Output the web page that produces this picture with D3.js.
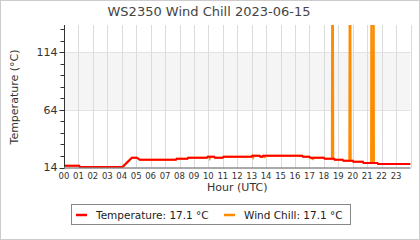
<!DOCTYPE html>
<html><head><meta charset="utf-8">
<script src="https://cdn.jsdelivr.net/npm/d3@7"></script>
<style>body{margin:0;background:#fff}svg{display:block;font-family:"DejaVu Sans",sans-serif}</style>
</head><body><svg id="c" width="420" height="240"></svg>
<script>
const title = "WS2350 Wind Chill 2023-06-15";
const hourTicks = d3.range(0, 24);
const yMajorTicks = [14, 64, 114];
const yMinorTicks = [24, 34, 44, 54, 74, 84, 94, 104, 124, 134];
const yDomain = [14, 137.6];
// Temperature (hour, °C)
const tempHours = [0, 1.05, 1.1, 4.05, 4.7, 5.05, 5.25, 7.75, 7.8, 8.55, 8.6, 9.9, 9.95, 10.4, 10.45, 11.0, 11.05, 13.0, 13.05, 13.55, 13.6, 13.75, 13.8, 16.5, 16.55, 17.0, 17.05, 18.0, 18.05, 18.7, 18.75, 19.3, 19.35, 20.0, 20.05, 20.7, 20.75, 21.7, 21.75, 24];
const tempValues = [15.6, 15.6, 14.4, 14.4, 22.5, 22.5, 20.7, 20.7, 21.6, 21.6, 22.5, 22.5, 23.4, 23.4, 22.5, 22.5, 23.4, 23.4, 24.2, 24.2, 23.4, 23.4, 24.2, 24.2, 23.4, 23.4, 22.5, 22.5, 21.6, 21.6, 20.7, 20.7, 19.8, 19.8, 18.9, 18.9, 18.0, 18.0, 17.1, 17.1];
// Wind chill (hour, °C)
const chillHours = [0, 1.05, 1.1, 4.05, 4.7, 5.05, 5.25, 7.75, 7.8, 8.55, 8.6, 9.9, 9.95, 10.05, 10.1, 10.15, 10.4, 10.45, 11.0, 11.05, 13.0, 13.05, 13.1, 13.15, 13.55, 13.6, 13.75, 13.8, 13.9, 13.95, 16.5, 16.55, 17.0, 17.05, 17.25, 17.3, 18.0, 18.05, 18.55, 18.58, 18.62, 18.65, 18.7, 18.75, 19.3, 19.35, 19.76, 19.79, 19.83, 19.86, 20.0, 20.05, 20.7, 20.75, 21.27, 21.29, 21.31, 21.43, 21.45, 21.47, 21.7, 21.75, 24];
const chillValues = [15.6, 15.6, 14.4, 14.4, 22.5, 22.5, 20.7, 20.7, 21.6, 21.6, 22.5, 22.5, 23.4, 23.4, 21.8, 23.4, 23.4, 22.5, 22.5, 23.4, 23.4, 24.2, 22.6, 24.2, 24.2, 23.4, 23.4, 24.2, 23.0, 24.2, 24.2, 23.4, 23.4, 22.5, 21.3, 22.5, 22.5, 21.6, 21.6, 200, 200, 21.6, 21.6, 20.7, 20.7, 19.8, 19.8, 200, 200, 19.8, 19.8, 18.9, 18.9, 18.0, 18.0, 200, 18.0, 18.0, 200, 18.0, 18.0, 17.1, 17.1];
const legendLabels = ["Temperature: 17.1 °C", "Wind Chill: 17.1 °C"];
const colors = ["#ff0000", "#ff8c00"];

const svg = d3.select("#c");
const L = 64, R = 410.5, T = 25, B = 167.5;
const x = d3.scaleLinear().domain([0, 24]).range([L, R]);
const y = d3.scaleLinear().domain(yDomain).range([B, T]);

svg.append("rect").attr("x",0.5).attr("y",0.5).attr("width",419).attr("height",239).attr("fill","#fff").attr("stroke","#ccc");

// band
svg.append("rect").attr("x", L).attr("width", R - L).attr("y", y(114)).attr("height", y(64) - y(114)).attr("fill", "#f5f5f5");
// horizontal grid
svg.append("g").selectAll("line").data([64,114]).join("line")
  .attr("x1", L).attr("x2", R).attr("y1", d=>Math.round(y(d))+0.5).attr("y2", d=>Math.round(y(d))+0.5).attr("stroke","#e2e2e2");
// vertical grid
svg.append("g").selectAll("line").data(hourTicks.slice(1).concat([24])).join("line")
  .attr("x1", d=>Math.round(x(d))+0.5).attr("x2", d=>Math.round(x(d))+0.5).attr("y1", T).attr("y2", B).attr("stroke","#dcdcdc");

const defs = svg.append("defs");
defs.append("clipPath").attr("id","clip").append("rect").attr("x",L).attr("y",T).attr("width",R-L).attr("height",B-T);

const line = d3.line().x(d=>x(d[0])).y(d=>y(d[1]));
const plot = svg.append("g").attr("clip-path","url(#clip)");
plot.append("path").datum(d3.zip(chillHours, chillValues)).attr("d", line).attr("fill","none").attr("stroke",colors[1]).attr("stroke-width",2);
plot.append("path").datum(d3.zip(tempHours, tempValues)).attr("d", line).attr("fill","none").attr("stroke",colors[0]).attr("stroke-width",2);

// y axis
const ya = svg.append("g").attr("transform",`translate(${L+0.5},0)`);
ya.append("line").attr("y1",T).attr("y2",B).attr("stroke","#333");
ya.selectAll(".mj").data(yMajorTicks).join("line").attr("x1",-5).attr("x2",0).attr("y1",d=>Math.round(y(d))+0.5).attr("y2",d=>Math.round(y(d))+0.5).attr("stroke","#333");
ya.selectAll(".mn").data(yMinorTicks).join("line").attr("class","mn").attr("x1",-4).attr("x2",0).attr("y1",d=>Math.round(y(d))+0.5).attr("y2",d=>Math.round(y(d))+0.5).attr("stroke","#333");
ya.selectAll("text").data(yMajorTicks).join("text").attr("x",-7).attr("y",d=>y(d)).attr("dy","0.35em").attr("text-anchor","end")
  .attr("font-size",11).attr("fill","#333").text(d=>d);

// x axis
svg.append("line").attr("x1",L).attr("x2",R).attr("y1",B+0.5).attr("y2",B+0.5).attr("stroke","#555");
svg.append("g").selectAll("text").data(hourTicks).join("text").attr("x",d=>x(d)).attr("y",179).attr("text-anchor","middle")
  .attr("font-size",8.5).attr("fill","#333").text(d=>d3.format("02d")(d));

svg.append("text").attr("x",(L+R)/2).attr("y",191).attr("text-anchor","middle").attr("font-size",11).attr("fill","#333").text("Hour (UTC)");
svg.append("text").attr("transform",`translate(18,97) rotate(-90)`).attr("text-anchor","middle").attr("font-size",11).attr("fill","#333").text("Temperature (°C)");
svg.append("text").attr("x",209).attr("y",15.5).attr("text-anchor","middle").attr("font-size",13).attr("fill","#444").text(title);

// legend
svg.append("rect").attr("x",71.5).attr("y",204.5).attr("width",279).attr("height",20).attr("fill","#fff").attr("stroke","#888");
const lx = [76, 224];
const lg = svg.append("g").selectAll("g").data(legendLabels).join("g").attr("transform",(d,i)=>`translate(${lx[i]},215)`);
lg.append("line").attr("x1",0).attr("x2",11).attr("y1",0).attr("y2",0).attr("stroke",(d,i)=>colors[i]).attr("stroke-width",2.5);
lg.append("text").attr("x",20).attr("y",0).attr("dy","0.35em").attr("font-size",10.5).attr("fill","#222").text(d=>d);
</script></body></html>
